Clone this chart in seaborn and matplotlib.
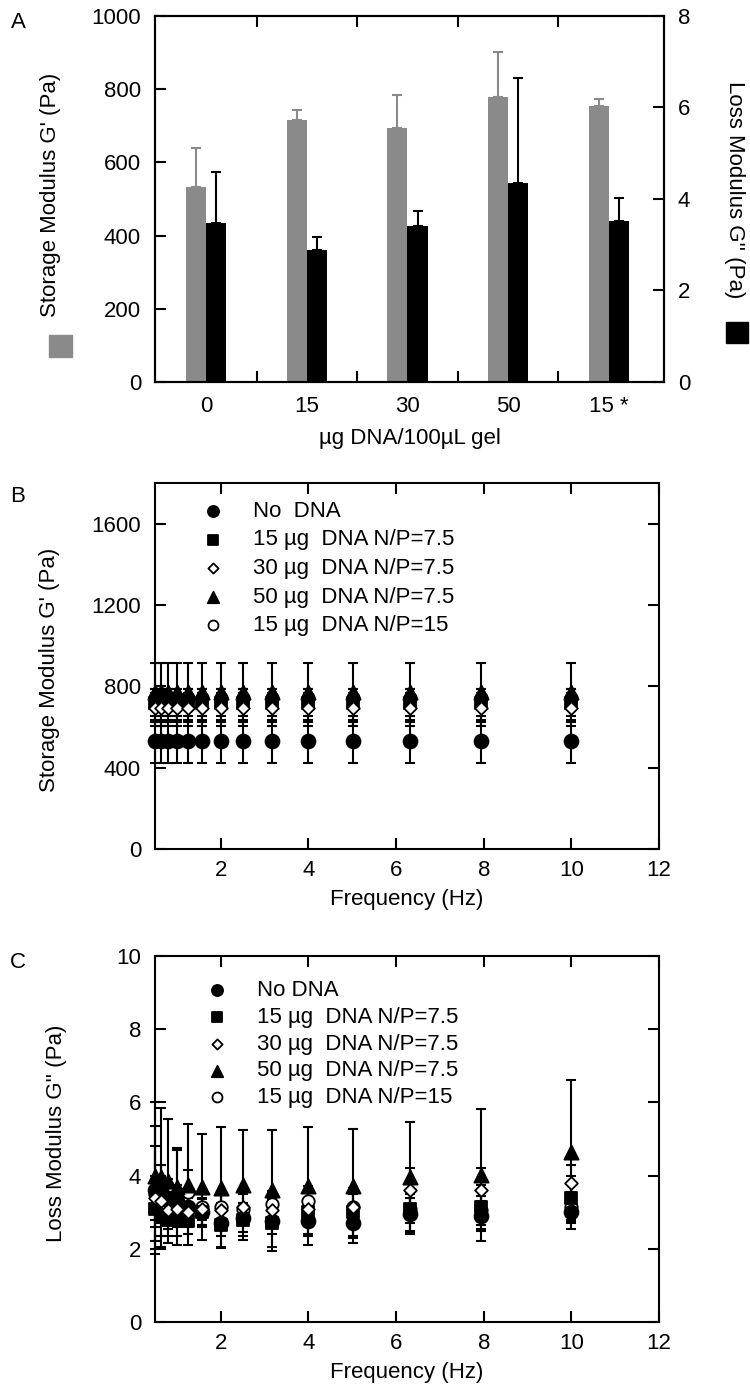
import pandas as pd
import matplotlib
matplotlib.use('Agg')
import matplotlib.pyplot as plt
import matplotlib.patches as mpatches
import seaborn as sns

sns.set_style('ticks')
plt.rcParams['font.family'] = ['Liberation Sans', 'DejaVu Sans']
plt.rcParams['font.size'] = 16
# pure black axes and text, like the reference
for key in ['axes.edgecolor', 'axes.labelcolor', 'text.color', 'xtick.color', 'ytick.color']:
    plt.rcParams[key] = 'black'

# ---- panel A data (bars) ----
doses = ['0', '15', '30', '50', '15 *']
storage = [533, 717, 693, 780, 755]
storage_sd = [107, 27, 90, 123, 18]
loss = [3.48, 2.89, 3.42, 4.34, 3.52]
loss_sd = [1.10, 0.29, 0.32, 2.31, 0.51]

# ---- panels B and C data (frequency sweeps) ----
freq = [0.5, 0.63, 0.79, 1.0, 1.26, 1.58, 2.0, 2.51, 3.16, 3.98, 5.01, 6.31, 7.94, 10.0]

labels_b = ['No  DNA', '15 µg  DNA N/P=7.5', '30 µg  DNA N/P=7.5',
            '50 µg  DNA N/P=7.5', '15 µg  DNA N/P=15']
labels_c = ['No DNA', '15 µg  DNA N/P=7.5', '30 µg  DNA N/P=7.5',
            '50 µg  DNA N/P=7.5', '15 µg  DNA N/P=15']

g1_nodna = [530, 530, 530, 530, 530, 530, 530, 530, 530, 530, 530, 530, 530, 530]
g1_nodna_err = [105, 105, 105, 105, 105, 105, 105, 105, 105, 105, 105, 105, 105, 105]
g1_15 = [720, 720, 720, 720, 720, 720, 720, 720, 720, 720, 720, 720, 720, 720]
g1_15_err = [65, 65, 65, 65, 65, 65, 65, 65, 65, 65, 65, 65, 65, 65]
g1_30 = [695, 695, 695, 695, 695, 695, 695, 695, 695, 695, 695, 695, 695, 695]
g1_30_err = [90, 90, 90, 90, 90, 90, 90, 90, 90, 90, 90, 90, 90, 90]
g1_50 = [770, 770, 770, 770, 770, 770, 770, 770, 770, 770, 770, 770, 770, 770]
g1_50_err = [145, 145, 145, 145, 145, 145, 145, 145, 145, 145, 145, 145, 145, 145]
g1_15b = [745, 745, 745, 745, 745, 745, 745, 745, 745, 745, 745, 745, 745, 745]
g1_15b_err = [20, 20, 20, 20, 20, 20, 20, 20, 20, 20, 20, 20, 20, 20]

g2_nodna = [3.6, 3.7, 3.4, 3.3, 3.15, 3.0, 2.7, 2.85, 2.75, 2.75, 2.7, 2.95, 2.9, 3.0]
g2_nodna_err = [1.75, 0.6, 0.5, 0.45, 0.4, 0.35, 0.35, 0.4, 0.35, 0.4, 0.4, 0.45, 0.4, 0.45]
g2_15 = [3.1, 2.9, 2.8, 2.85, 2.75, 3.0, 2.65, 2.8, 2.7, 3.0, 3.0, 3.1, 3.15, 3.4]
g2_15_err = [0.5, 0.55, 0.45, 0.5, 0.35, 0.4, 0.6, 0.45, 0.65, 0.6, 0.65, 0.7, 0.6, 0.6]
g2_30 = [3.4, 3.3, 3.05, 3.1, 3.0, 3.1, 3.05, 3.15, 3.05, 3.1, 3.15, 3.6, 3.6, 3.8]
g2_30_err = [0.6, 0.5, 0.5, 0.5, 0.4, 0.45, 0.45, 0.4, 0.45, 0.45, 0.4, 0.6, 0.6, 0.5]
g2_50 = [4.0, 3.95, 3.85, 3.7, 3.75, 3.7, 3.67, 3.75, 3.6, 3.72, 3.72, 3.97, 4.02, 4.65]
g2_50_err = [2.0, 1.9, 1.7, 1.05, 1.65, 1.45, 1.65, 1.5, 1.65, 1.62, 1.55, 1.5, 1.8, 1.95]
g2_15b = [3.5, 3.5, 3.3, 3.4, 3.55, 3.15, 3.15, 3.1, 3.22, 3.31, 3.15, 3.1, 3.05, 3.15]
g2_15b_err = [1.3, 0.8, 0.6, 1.3, 0.6, 0.35, 0.35, 0.4, 0.35, 0.4, 0.35, 0.4, 0.4, 0.4]

gray = '#8a8a8a'
W, H = 750, 1392


def frac(x0, y0, x1, y1):
    # pixel box -> figure fraction rect
    return [x0 / W, 1 - y1 / H, (x1 - x0) / W, (y1 - y0) / H]


fig = plt.figure(figsize=(7.5, 13.92), dpi=100)

# ================= Panel A =================
axA = fig.add_axes(frac(155, 16, 664, 382))
df_s = pd.DataFrame({'dose': doses, 'value': storage, 'series': "G'"})
df_l = pd.DataFrame({'dose': doses, 'value': loss, 'series': "G''"})
pal = {"G'": gray, "G''": 'black'}
sns.barplot(data=df_s, x='dose', y='value', hue='series', hue_order=["G'", "G''"],
            palette=pal, dodge=True, width=0.4, saturation=1, errorbar=None,
            legend=False, ax=axA, linewidth=0)
axA2 = axA.twinx()
sns.barplot(data=df_l, x='dose', y='value', hue='series', hue_order=["G'", "G''"],
            palette=pal, dodge=True, width=0.4, saturation=1, errorbar=None,
            legend=False, ax=axA2, linewidth=0)

xs = [p.get_x() + p.get_width() / 2 for p in axA.patches][:len(doses)]
axA.errorbar(xs, storage, yerr=[[0] * len(doses), storage_sd], fmt='none',
             ecolor=gray, elinewidth=1.5, capsize=3.5, capthick=1.5)
xl = [p.get_x() + p.get_width() / 2 for p in axA2.patches][:len(doses)]
axA2.errorbar(xl, loss, yerr=[[0] * len(doses), loss_sd], fmt='none',
              ecolor='black', elinewidth=1.5, capsize=3.5, capthick=1.5)

axA.set_xlim(-0.51, 4.55)
axA.set_ylim(0, 1000)
axA2.set_ylim(0, 8)
axA.set_yticks(range(0, 1001, 200))
axA2.set_yticks(range(0, 9, 2))
axA.set_xticks(range(len(doses)))
axA.set_xticklabels(doses)
axA.set_xticks([0.5, 1.5, 2.5, 3.5], minor=True)
axA.tick_params(axis='x', which='major', length=0, pad=10, labelsize=16)
axA.tick_params(axis='x', which='minor', direction='in', length=8, width=1.5,
                top=True, bottom=True)
axA.tick_params(axis='y', direction='in', length=8, width=1.5, labelsize=16, pad=10)
axA2.tick_params(axis='y', direction='in', length=8, width=1.5, labelsize=16, pad=10)
axA.set_xlabel('µg DNA/100µL gel', fontsize=16, labelpad=8)
axA.set_ylabel("Storage Modulus G' (Pa)", fontsize=16)
axA.yaxis.set_label_coords(-0.185, 0.51)
axA2.set_ylabel("Loss Modulus G'' (Pa)", fontsize=16, rotation=270, va='center')
axA2.yaxis.set_label_coords(1.138, 0.525)
for a in (axA, axA2):
    for s in a.spines.values():
        s.set_linewidth(1.5)
        s.set_visible(True)

# legend swatches beside the axis titles
fig.add_artist(mpatches.Rectangle((49 / W, 1 - 357 / H), 23 / W, 22 / H,
                                  transform=fig.transFigure, color=gray))
fig.add_artist(mpatches.Rectangle((726 / W, 1 - 343 / H), 22 / W, 21 / H,
                                  transform=fig.transFigure, color='black'))


# ================= Panels B and C =================
def sweep(ax, series, labels, ylim, yticks, ylabel, leg_anchor, spacing):
    # marker, face colour, size, stacking order
    styles = [('o', 'black', 100, 3), ('s', 'black', 85, 3.2), ('D', 'white', 42, 3.6),
              ('^', 'black', 105, 3.4), ('o', 'white', 80, 2.8)]
    for (vals, err), lab, (mk, fc, sz, z) in zip(series, labels, styles):
        ax.errorbar(freq, vals, yerr=err, fmt='none', ecolor='black',
                    elinewidth=1.5, capsize=3.5, capthick=1.5, zorder=2, clip_on=False)
        sns.scatterplot(x=freq, y=vals, ax=ax, marker=mk, color=fc, edgecolor='black',
                        linewidth=1.3, s=sz, label=lab, zorder=z, clip_on=False)
    ax.set_xlim(0.5, 12)
    ax.set_ylim(*ylim)
    ax.set_xticks([2, 4, 6, 8, 10, 12])
    ax.set_yticks(yticks)
    ax.tick_params(direction='in', length=8, width=1.5, labelsize=16, top=True,
                   right=True, pad=8)
    ax.tick_params(axis='y', pad=10)
    ax.set_xlabel('Frequency (Hz)', fontsize=16, labelpad=6)
    ax.set_ylabel(ylabel, fontsize=16)
    for s in ax.spines.values():
        s.set_linewidth(1.5)
    ax.legend(loc='upper left', bbox_to_anchor=leg_anchor, frameon=False, fontsize=16,
              markerscale=0.8, handlelength=1.0, handletextpad=1.3, borderpad=0,
              borderaxespad=0, labelspacing=spacing)


axB = fig.add_axes(frac(155, 483, 659, 849))
sweep(axB,
      [(g1_nodna, g1_nodna_err), (g1_15, g1_15_err), (g1_30, g1_30_err),
       (g1_50, g1_50_err), (g1_15b, g1_15b_err)],
      labels_b, (0, 1800), range(0, 1601, 400), "Storage Modulus G' (Pa)",
      (0.093, 0.951), 0.34)
axB.yaxis.set_label_coords(-0.188, 0.49)

axC = fig.add_axes(frac(155, 956, 659, 1322))
sweep(axC,
      [(g2_nodna, g2_nodna_err), (g2_15, g2_15_err), (g2_30, g2_30_err),
       (g2_50, g2_50_err), (g2_15b, g2_15b_err)],
      labels_c, (0, 10), range(0, 11, 2), "Loss Modulus G'' (Pa)",
      (0.101, 0.934), 0.26)
axC.yaxis.set_label_coords(-0.175, 0.515)

fig.text(18 / W, 1 - 22 / H, 'A', fontsize=16, ha='center', va='center')
fig.text(18 / W, 1 - 497 / H, 'B', fontsize=16, ha='center', va='center')
fig.text(18 / W, 1 - 962 / H, 'C', fontsize=16, ha='center', va='center')

fig.savefig('out.png', dpi=100)
